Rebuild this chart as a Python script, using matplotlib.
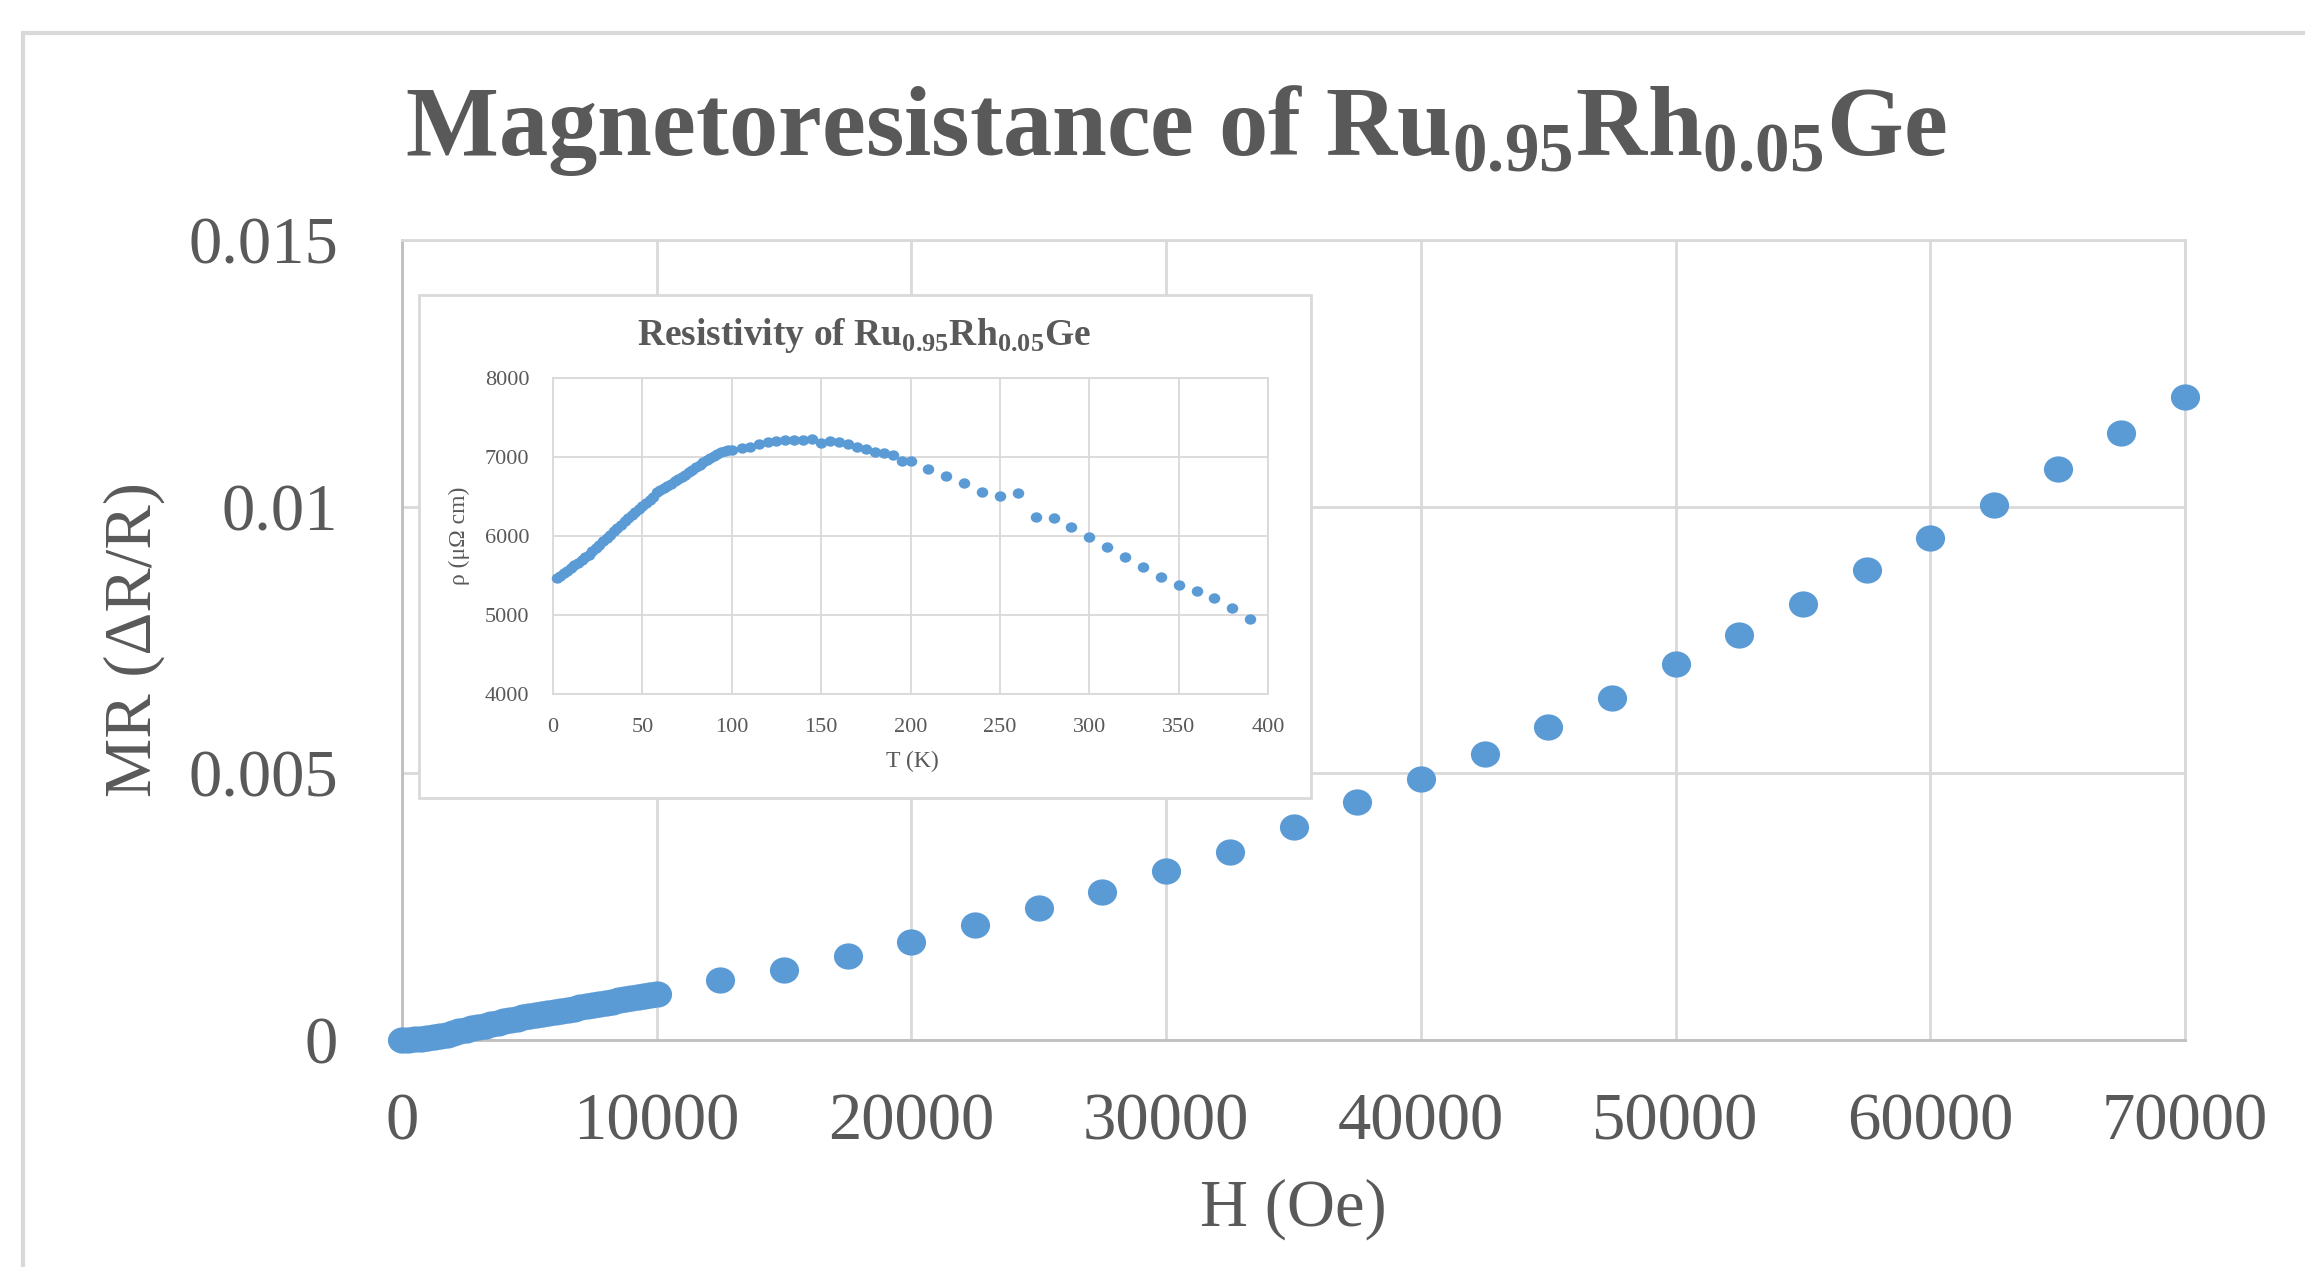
import matplotlib
matplotlib.use('Agg')
import matplotlib.pyplot as plt
from matplotlib.path import Path
from matplotlib.transforms import Affine2D
from matplotlib.patches import Rectangle

plt.rcParams['font.family'] = ['Liberation Serif', 'DejaVu Serif']
plt.rcParams['mathtext.fontset'] = 'custom'
plt.rcParams['mathtext.rm'] = 'Liberation Serif'
plt.rcParams['mathtext.bf'] = 'Liberation Serif:bold'

# main plot: MR vs field
H_low = [0, 250, 500, 750, 1000, 1250, 1500, 1750, 2000, 2250,
         2500, 2750, 3000, 3250, 3500, 3750, 4000, 4250, 4500, 4750,
         5000, 5250, 5500, 5750, 6000, 6250, 6500, 6750, 7000, 7250,
         7500, 7750, 8000, 8250, 8500, 8750, 9000, 9250, 9500, 9750, 10000]
MR_low = [0.00000, 0.00000, 0.00001, 0.00002, 0.00003, 0.00005, 0.00007, 0.00010, 0.00013, 0.00016,
          0.00019, 0.00022, 0.00025, 0.00027, 0.00030, 0.00032, 0.00035, 0.00037, 0.00040, 0.00043,
          0.00045, 0.00047, 0.00049, 0.00050, 0.00052, 0.00054, 0.00056, 0.00059, 0.00061, 0.00063,
          0.00066, 0.00068, 0.00070, 0.00072, 0.00075, 0.00077, 0.00079, 0.00080, 0.00082, 0.00084, 0.00086]
H_high = [12500, 15000, 17500, 20000, 22500, 25000, 27500, 30000, 32500, 35000,
          37500, 40000, 42500, 45000, 47500, 50000, 52500, 55000, 57500, 60000,
          62500, 65000, 67500, 70000]
MR_high = [0.00113, 0.00132, 0.00157, 0.00184, 0.00215, 0.00248, 0.00278, 0.00316, 0.00352, 0.00399,
           0.00446, 0.00490, 0.00537, 0.00586, 0.00641, 0.00705, 0.00760, 0.00817, 0.00881, 0.00942,
           0.01004, 0.01071, 0.01138, 0.01205]

# inset: resistivity vs temperature
T_vals = [2, 4, 6, 8, 10, 12, 14, 16, 18, 20,
          22, 24, 26, 28, 30, 32, 34, 36, 38, 40,
          42, 44, 46, 48, 50, 52, 54, 56, 58, 60,
          62, 64, 66, 68, 70, 72, 74, 76, 78, 80,
          82, 84, 86, 88, 90, 92, 94, 96, 98, 100,
          106, 110, 115, 120, 125, 130, 135, 140, 145, 150,
          155, 160, 165, 170, 175, 180, 185, 190, 195, 200,
          210, 220, 230, 240, 250, 260, 270, 280, 290, 300,
          310, 320, 330, 340, 350, 360, 370, 380, 390]
rho_vals = [5470, 5500, 5530, 5562, 5597, 5630, 5662, 5695, 5728, 5764,
            5805, 5847, 5890, 5932, 5975, 6017, 6060, 6102, 6143, 6185,
            6225, 6265, 6305, 6345, 6385, 6420, 6455, 6495, 6560, 6585,
            6610, 6630, 6660, 6690, 6720, 6750, 6778, 6808, 6838, 6870,
            6905, 6937, 6966, 6990, 7015, 7040, 7058, 7072, 7085, 7093,
            7114, 7127, 7169, 7194, 7207, 7220, 7220, 7220, 7232, 7177,
            7207, 7196, 7166, 7132, 7098, 7069, 7056, 7026, 6955, 6955,
            6849, 6760, 6675, 6561, 6510, 6540, 6243, 6231, 6116, 5989,
            5862, 5735, 5608, 5481, 5376, 5299, 5219, 5092, 4952]

blue = '#5b9bd5'
txt = '#595959'
grid = '#d9d9d9'

# slightly wide oval marker, like the excel points
oval = Path.unit_circle().transformed(Affine2D().scale(1.0, 0.9))

fig = plt.figure(figsize=(23.05, 12.67), dpi=100)

# outer chart border (cut at right/bottom)
fig.patches.append(Rectangle((23 / 2305, -0.2), 1.5, 1.2 - 33 / 1267,
                             transform=fig.transFigure, fill=False,
                             edgecolor=grid, linewidth=3, zorder=0))

ax = fig.add_axes([402 / 2305, 1 - 1040 / 1267, 1783 / 2305, 800 / 1267])
ax.plot(H_low, MR_low, linestyle='none', marker=oval, ms=21, mew=0,
        color=blue, clip_on=False, zorder=3)
ax.plot(H_high, MR_high, linestyle='none', marker=oval, ms=21, mew=0,
        color=blue, clip_on=False, zorder=3)
ax.set_xlim(0, 70000)
ax.set_ylim(0, 0.015)
ax.set_xticks(range(0, 70001, 10000))
ax.set_yticks([0, 0.005, 0.01, 0.015])
ax.set_yticklabels(['0', '0.005', '0.01', '0.015'])
ax.grid(True, color=grid, linewidth=2)
ax.set_axisbelow(True)
for s in ax.spines.values():
    s.set_color(grid)
    s.set_linewidth(2)
ax.spines['left'].set_color('#bfbfbf')
ax.spines['bottom'].set_color('#bfbfbf')
ax.tick_params(axis='both', length=0, labelsize=48, labelcolor=txt)
ax.tick_params(axis='x', pad=38)
ax.tick_params(axis='y', pad=46)
ax.set_xlabel('H (Oe)', fontsize=48, color=txt, va='center')
ax.xaxis.set_label_coords(0.5, -0.211)
ax.set_ylabel('MR (\u0394R/R)', fontsize=48, color=txt, va='center')
ax.yaxis.set_label_coords(-0.150, 0.5)

fig.text(1176 / 2305, 1 - 155 / 1267,
         r'Magnetoresistance of Ru$_\mathbf{0.95}$Rh$_\mathbf{0.05}$Ge',
         fontsize=71, fontweight='bold', color=txt, ha='center', va='baseline')

# inset box
fig.patches.append(Rectangle((419 / 2305, 1 - 798 / 1267), 892 / 2305, 503 / 1267,
                             transform=fig.transFigure, facecolor='white',
                             edgecolor=grid, linewidth=2, zorder=1))

ax2 = fig.add_axes([553 / 2305, 1 - 694 / 1267, 715 / 2305, 316 / 1267], zorder=2)
ax2.patch.set_alpha(0)
ax2.plot(T_vals, rho_vals, linestyle='none', marker=oval, ms=8.3, mew=0,
         color=blue, clip_on=False, zorder=3)
ax2.set_xlim(0, 400)
ax2.set_ylim(4000, 8000)
ax2.set_xticks(range(0, 401, 50))
ax2.set_yticks(range(4000, 8001, 1000))
ax2.grid(True, color=grid, linewidth=1.3)
ax2.set_axisbelow(True)
for s in ax2.spines.values():
    s.set_color(grid)
    s.set_linewidth(1.3)
ax2.tick_params(axis='both', length=0, labelsize=16, labelcolor=txt, pad=17)
ax2.set_xlabel('T (K)', fontsize=17, color=txt, va='center')
ax2.xaxis.set_label_coords(0.502, -0.215)
ax2.set_ylabel('\u03c1 (\u03bc\u03a9 cm)', fontsize=17, color=txt, va='center')
ax2.yaxis.set_label_coords(-0.131, 0.5)

fig.text(864 / 2305, 1 - 345 / 1267,
         r'Resistivity of Ru$_\mathbf{0.95}$Rh$_\mathbf{0.05}$Ge',
         fontsize=27, fontweight='bold', color=txt, ha='center', va='baseline',
         zorder=3)

fig.savefig('out.png', dpi=100)
